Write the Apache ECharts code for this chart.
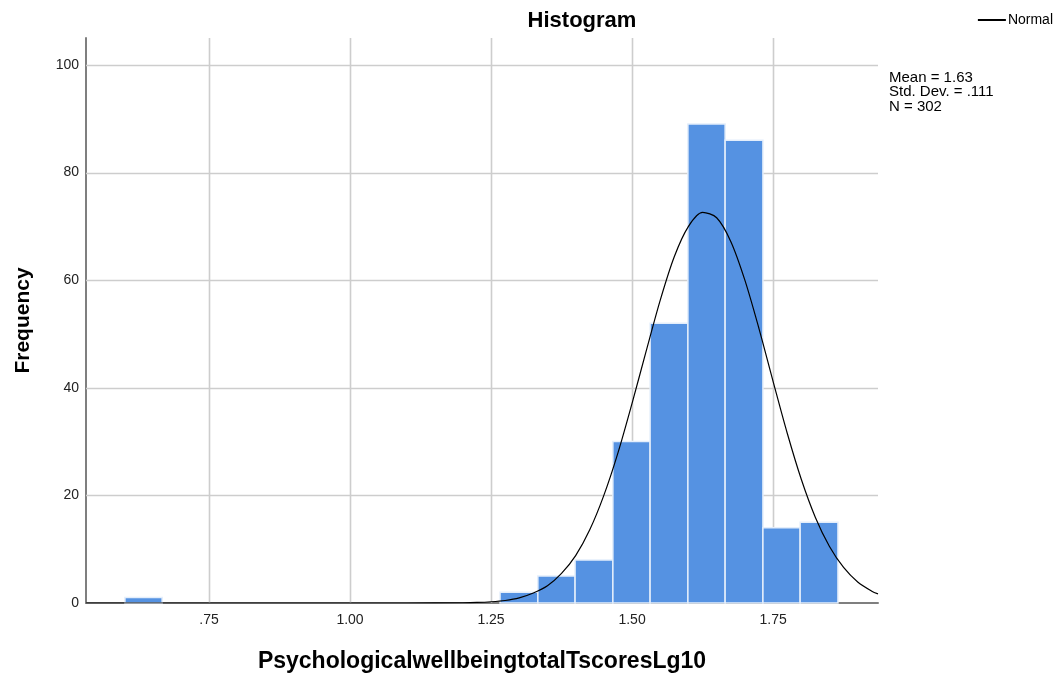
<!DOCTYPE html>
<html>
<head>
<meta charset="utf-8">
<script src="https://cdn.jsdelivr.net/npm/echarts@6/dist/echarts.min.js"></script>
<style>html,body{margin:0;padding:0;background:#fff}#c{width:1059px;height:678px}</style>
</head>
<body>
<div id="c"></div>
<script>
// Histogram bins (edges) and frequencies
const binStarts = [0.601, 1.266, 1.333, 1.399, 1.466, 1.532, 1.599, 1.665, 1.732, 1.798];
const binEnds   = [0.667, 1.333, 1.399, 1.466, 1.532, 1.599, 1.665, 1.732, 1.798, 1.865];
const counts    = [1, 2, 5, 8, 30, 52, 89, 86, 14, 15];

// Normal curve points
const curveX = [0.532, 0.75, 1.00, 1.10, 1.20, 1.225, 1.25, 1.275, 1.30, 1.325, 1.35, 1.375, 1.40, 1.425, 1.45, 1.475, 1.50, 1.525, 1.55, 1.575, 1.60, 1.625, 1.65, 1.675, 1.70, 1.725, 1.75, 1.775, 1.80, 1.825, 1.85, 1.875, 1.90, 1.925, 1.936];
const curveY = [0, 0, 0, 0.003, 0.05, 0.1, 0.23, 0.47, 0.95, 1.85, 3.2, 5.5, 8.8, 13.6, 20.0, 27.9, 37.1, 46.8, 56.3, 64.4, 70.0, 72.6, 71.6, 67.2, 60.0, 51.0, 41.2, 31.6, 23.0, 15.9, 10.5, 6.6, 3.9, 2.2, 1.7];

// Tick labels
const xTicks = [0.75, 1.00, 1.25, 1.50, 1.75];
const xTickLabels = ['.75', '1.00', '1.25', '1.50', '1.75'];
const yTicks = [0, 20, 40, 60, 80, 100];

const stats = ['Mean = 1.63', 'Std. Dev. = .111', 'N = 302'];

const FONT = 'Liberation Sans, Arial, sans-serif';
const chart = echarts.init(document.getElementById('c'), null, {renderer: 'canvas'});

const histData = binStarts.map((s, i) => [s, binEnds[i], counts[i]]);
const curveData = curveX.map((x, i) => [x, curveY[i]]);

const gridColor = '#cdcdcd';
const gridLineWidth = 1.6;

chart.setOption({
  animation: false,
  textStyle: {fontFamily: FONT},
  title: {
    text: 'Histogram',
    left: 577, top: 5,
    textAlign: 'center',
    textStyle: {fontFamily: FONT, fontSize: 22, fontWeight: 'bold', color: '#000'}
  },
  legend: {
    right: 1, top: 8,
    itemWidth: 28, itemHeight: 2, itemGap: 4,
    textStyle: {fontFamily: FONT, fontSize: 14, color: '#000', padding: [0,0,0,-3]},
    data: [{name: 'Normal', icon: 'rect', itemStyle: {color: '#000'}}]
  },
  graphic: [{
    type: 'text',
    left: 889, top: 70,
    style: {text: stats.join('\n'), font: '15px ' + FONT, fill: '#000', lineHeight: 14.5}
  }],
  grid: {left: 86, right: 181, top: 38, bottom: 74},
  xAxis: {
    type: 'value',
    min: 0.532, max: 1.936,
    name: 'PsychologicalwellbeingtotalTscoresLg10',
    nameLocation: 'middle', nameGap: 47,
    nameTextStyle: {fontFamily: FONT, fontSize: 23, fontWeight: 'bold', color: '#000'},
    axisLine: {show: true, onZero: false, lineStyle: {color: '#7f7f7f', width: 2}},
    axisTick: {show: false},
    splitLine: {show: false},
    axisLabel: {
      customValues: xTicks,
      margin: 10,
      fontSize: 14, color: '#222', fontFamily: FONT,
      formatter: v => { const i = xTicks.findIndex(t => Math.abs(t - v) < 1e-6); return i >= 0 ? xTickLabels[i] : ''; }
    }
  },
  yAxis: {
    type: 'value',
    min: 0, max: 105,
    name: 'Frequency',
    nameLocation: 'middle', nameGap: 52,
    nameTextStyle: {fontFamily: FONT, fontSize: 21, fontWeight: 'bold', color: '#000'},
    axisLine: {show: true, lineStyle: {color: '#7f7f7f', width: 2}},
    axisTick: {show: false},
    splitLine: {show: false},
    axisLabel: {customValues: yTicks, margin: 7, fontSize: 14, color: '#222', fontFamily: FONT}
  },
  series: [
    {
      type: 'custom', name: 'vgrid', silent: true, z: 1,
      data: xTicks.map(v => [v]),
      encode: {x: 0},
      renderItem: function (params, api) {
        const cs = params.coordSys;
        const x = Math.round(api.coord([api.value(0), 0])[0]) + 0.5;
        return {type: 'line', shape: {x1: x, y1: cs.y, x2: x, y2: cs.y + cs.height},
                style: {stroke: gridColor, lineWidth: gridLineWidth}};
      }
    },
    {
      type: 'custom', name: 'hgrid', silent: true, z: 1,
      data: yTicks.filter(v => v > 0).map(v => [0.532, v]),
      encode: {x: 0, y: 1},
      renderItem: function (params, api) {
        const cs = params.coordSys;
        const y = Math.round(api.coord([0.532, api.value(1)])[1]) + 0.5;
        return {type: 'line', shape: {x1: cs.x, y1: y, x2: cs.x + cs.width, y2: y},
                style: {stroke: gridColor, lineWidth: gridLineWidth}};
      }
    },
    {
      type: 'custom', name: 'Histogram', z: 3,
      data: histData,
      encode: {x: [0, 1], y: 2},
      renderItem: function (params, api) {
        const p0 = api.coord([api.value(0), api.value(2)]);
        const p1 = api.coord([api.value(1), 0]);
        return {
          type: 'rect',
          shape: {x: p0[0], y: p0[1], width: p1[0] - p0[0], height: p1[1] - p0[1]},
          style: {fill: '#5592e2', stroke: '#e4eefb', lineWidth: 1.5}
        };
      }
    },
    {
      type: 'line', name: 'Normal', z: 4,
      data: curveData, smooth: 0.3, showSymbol: false, symbol: 'none',
      lineStyle: {color: '#000', width: 1.2},
      itemStyle: {color: '#000'}
    }
  ]
});
</script>
</body>
</html>
